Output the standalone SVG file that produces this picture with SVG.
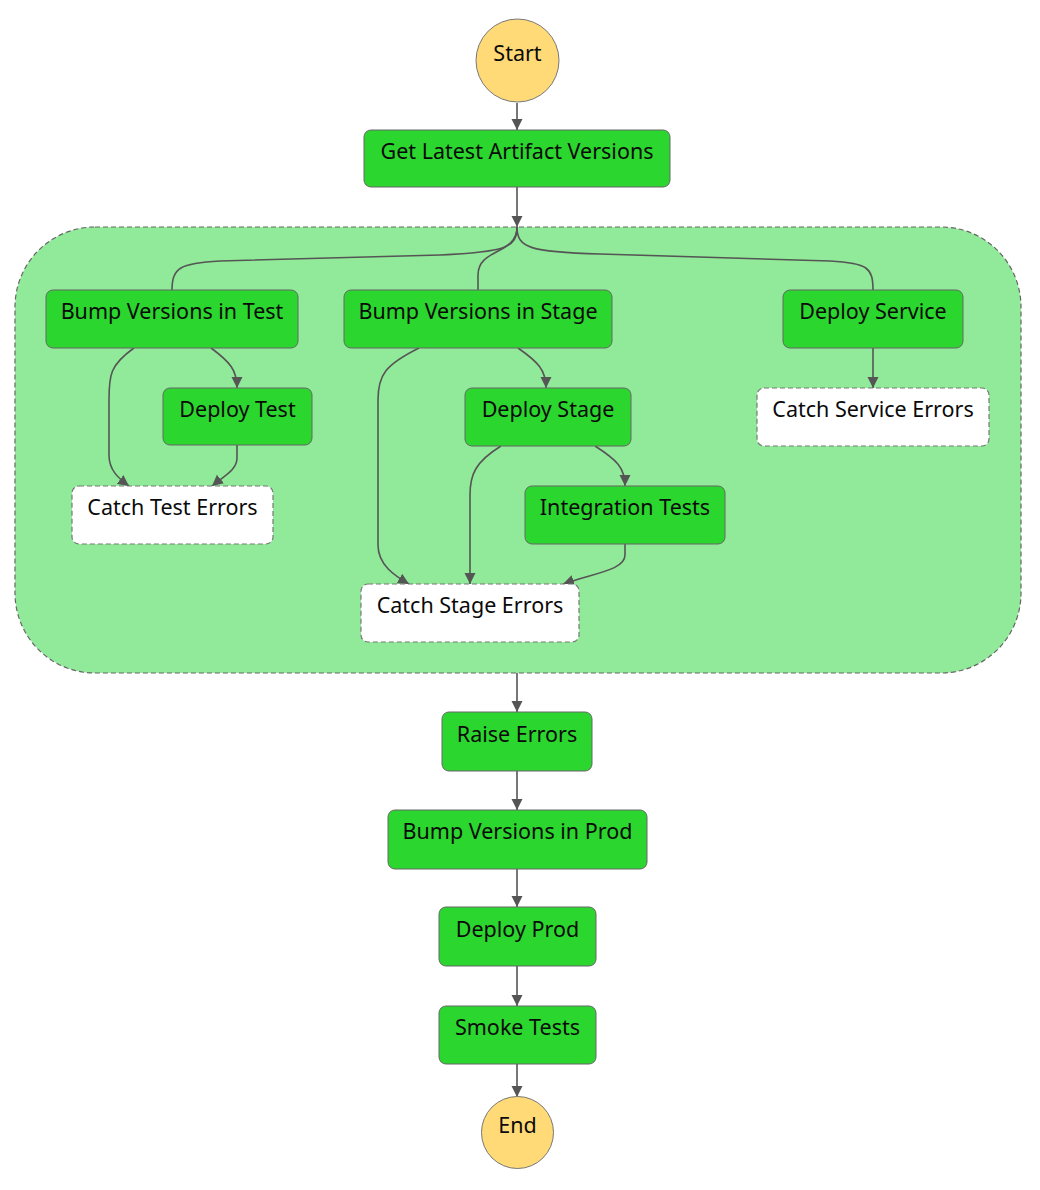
<svg xmlns="http://www.w3.org/2000/svg" width="1040" height="1190" viewBox="0 0 1040 1190">
<style>
  .task { fill: #2BD62E; stroke: #666; stroke-width: 1; }
  .catch { fill: #FFFFFF; stroke: #777; stroke-width: 1.2; stroke-dasharray: 5 3; }
  .term { fill: #FFDA77; stroke: #777; stroke-width: 1; }
  .par { fill: #91EA99; stroke: #666; stroke-width: 1.2; stroke-dasharray: 5 3; }
  .lbl { font-family: "Noto Sans", "Open Sans", "DejaVu Sans", sans-serif; font-size: 21.5px; fill: #0A0A0A; text-anchor: middle; }
  .edge { fill: none; stroke: #555; stroke-width: 1.6; }
</style>
<defs>
  <marker id="arr" markerUnits="userSpaceOnUse" markerWidth="12" markerHeight="12" refX="11" refY="6" orient="auto">
    <path d="M0,0.5 L11,6 L0,11.5 Z" fill="#555"/>
  </marker>
</defs>
<rect width="1040" height="1190" fill="#FFFFFF"/>

<g id="parallel">
  <rect class="par" x="15" y="227" width="1006" height="446" rx="80" ry="80"/>
</g>

<g id="connectors">
  <path class="edge" d="M517,103 L517,130" marker-end="url(#arr)"/>
  <path class="edge" d="M517,187 L517,227" marker-end="url(#arr)"/>
  <path class="edge" d="M517,227 C517,248 505,252 440,255 L220,261 C180,263 172,268 172,290"/>
  <path class="edge" d="M517,227 C517,255 478,248 478,275 L478,290"/>
  <path class="edge" d="M517,227 C517,248 530,252 600,254 L830,261 C868,263 873,268 873,290"/>
  <path class="edge" d="M134,348 C110,365 109,375 109,400 L109,455 C109,470 118,478 129,486" marker-end="url(#arr)"/>
  <path class="edge" d="M211,348 C230,362 237,370 237,388" marker-end="url(#arr)"/>
  <path class="edge" d="M237,445 L237,458 C237,470 224,476 212,486" marker-end="url(#arr)"/>
  <path class="edge" d="M419,348 C385,365 378,375 378,400 L378,545 C378,565 395,576 409,584" marker-end="url(#arr)"/>
  <path class="edge" d="M518,348 C538,362 546,370 546,388" marker-end="url(#arr)"/>
  <path class="edge" d="M501,446 C475,462 470,475 470,495 L470,584" marker-end="url(#arr)"/>
  <path class="edge" d="M595,446 C617,460 625,468 625,486" marker-end="url(#arr)"/>
  <path class="edge" d="M625,544 L625,555 C625,570 595,573 563,584" marker-end="url(#arr)"/>
  <path class="edge" d="M873,348 L873,388" marker-end="url(#arr)"/>
  <path class="edge" d="M517,673 L517,712" marker-end="url(#arr)"/>
  <path class="edge" d="M517,771 L517,810" marker-end="url(#arr)"/>
  <path class="edge" d="M517,869 L517,907" marker-end="url(#arr)"/>
  <path class="edge" d="M517,966 L517,1006" marker-end="url(#arr)"/>
  <path class="edge" d="M517,1064 L517,1097" marker-end="url(#arr)"/>
</g>

<g id="start">
  <circle class="term" cx="517.5" cy="60.5" r="41.5"/>
  <text class="lbl" x="517.5" y="61">Start</text>
</g>
<g id="get-latest">
  <rect class="task" x="364" y="130" width="306" height="57" rx="7"/>
  <text class="lbl" x="517" y="159">Get Latest Artifact Versions</text>
</g>
<g id="bump-test">
  <rect class="task" x="46" y="290" width="252" height="58" rx="7"/>
  <text class="lbl" x="172" y="319">Bump Versions in Test</text>
</g>
<g id="bump-stage">
  <rect class="task" x="344" y="290" width="268" height="58" rx="7"/>
  <text class="lbl" x="478" y="319">Bump Versions in Stage</text>
</g>
<g id="deploy-service">
  <rect class="task" x="783" y="290" width="180" height="58" rx="7"/>
  <text class="lbl" x="873" y="319">Deploy Service</text>
</g>
<g id="deploy-test">
  <rect class="task" x="163" y="388" width="149" height="57" rx="7"/>
  <text class="lbl" x="237.5" y="417">Deploy Test</text>
</g>
<g id="deploy-stage">
  <rect class="task" x="465" y="388" width="166" height="58" rx="7"/>
  <text class="lbl" x="548" y="417">Deploy Stage</text>
</g>
<g id="catch-service">
  <rect class="catch" x="757" y="388" width="232" height="58" rx="7"/>
  <text class="lbl" x="873" y="417">Catch Service Errors</text>
</g>
<g id="catch-test">
  <rect class="catch" x="72" y="486" width="201" height="58" rx="7"/>
  <text class="lbl" x="172.5" y="515">Catch Test Errors</text>
</g>
<g id="integration-tests">
  <rect class="task" x="525" y="486" width="200" height="58" rx="7"/>
  <text class="lbl" x="625" y="515">Integration Tests</text>
</g>
<g id="catch-stage">
  <rect class="catch" x="361" y="584" width="218" height="58" rx="7"/>
  <text class="lbl" x="470" y="613">Catch Stage Errors</text>
</g>
<g id="raise-errors">
  <rect class="task" x="442" y="712" width="150" height="59" rx="7"/>
  <text class="lbl" x="517" y="742">Raise Errors</text>
</g>
<g id="bump-prod">
  <rect class="task" x="388" y="810" width="259" height="59" rx="7"/>
  <text class="lbl" x="517.5" y="839">Bump Versions in Prod</text>
</g>
<g id="deploy-prod">
  <rect class="task" x="439" y="907" width="157" height="59" rx="7"/>
  <text class="lbl" x="517.5" y="937">Deploy Prod</text>
</g>
<g id="smoke-tests">
  <rect class="task" x="439" y="1006" width="157" height="58" rx="7"/>
  <text class="lbl" x="517.5" y="1035">Smoke Tests</text>
</g>
<g id="end">
  <circle class="term" cx="517.5" cy="1132.5" r="36"/>
  <text class="lbl" x="517.5" y="1133">End</text>
</g>
</svg>
